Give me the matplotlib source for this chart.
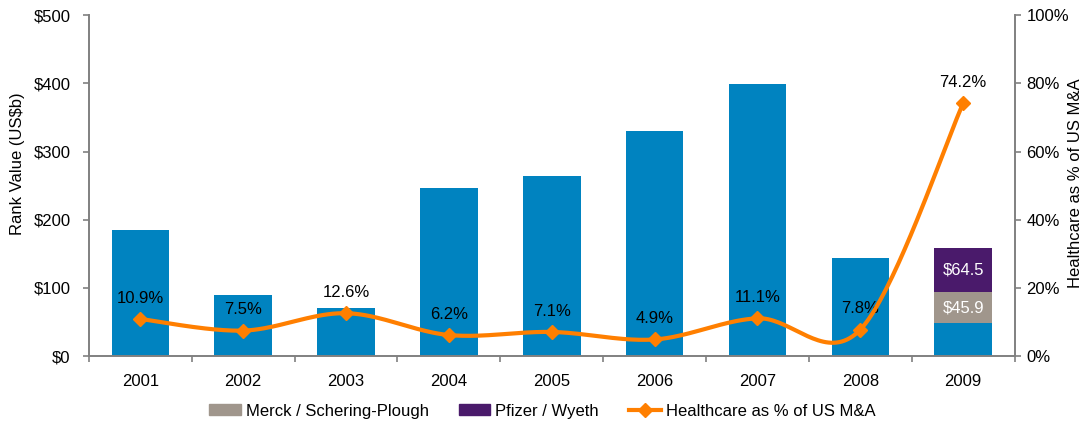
import numpy as np
import matplotlib
matplotlib.use("Agg")
import matplotlib.pyplot as plt
from matplotlib.patches import Patch
from matplotlib.lines import Line2D

plt.rcParams["font.family"] = ["Liberation Sans", "DejaVu Sans"]
plt.rcParams["font.size"] = 12

years = ["2001", "2002", "2003", "2004", "2005", "2006", "2007", "2008", "2009"]
rank_value = [185, 89, 70, 246, 264, 330, 399, 144, 48]   # US$b, other deals
merck_sp = 45.9     # 2009 only
pfizer_wyeth = 64.5  # 2009 only
hc_share = [10.9, 7.5, 12.6, 6.2, 7.1, 4.9, 11.1, 7.8, 74.2]

BLUE = "#0083c0"
GREY = "#a0968c"
PURPLE = "#4a1a6b"
ORANGE = "#ff7f00"
SPINE = "#808080"


def smooth_line(y, n=40):
    # excel-style smoothed line: cubic bezier with catmull-rom control points
    y = np.asarray(y, dtype=float)
    x = np.arange(len(y), dtype=float)
    pts = np.column_stack([x, y])
    out = []
    for i in range(len(pts) - 1):
        p0 = pts[max(i - 1, 0)]
        p1 = pts[i]
        p2 = pts[i + 1]
        p3 = pts[min(i + 2, len(pts) - 1)]
        c1 = p1 + (p2 - p0) / 6
        c2 = p2 - (p3 - p1) / 6
        t = np.linspace(0, 1, n)[:, None]
        seg = ((1 - t) ** 3) * p1 + 3 * ((1 - t) ** 2) * t * c1 \
            + 3 * (1 - t) * t ** 2 * c2 + t ** 3 * p2
        out.append(seg if i == 0 else seg[1:])
    out = np.vstack(out)
    return out[:, 0], out[:, 1]


fig = plt.figure(figsize=(10.84, 4.22), dpi=100)
ax = fig.add_axes([0.082, 0.156, 0.854, 0.808])

x = np.arange(len(years))
w = 0.56
ax.bar(x, rank_value, width=w, color=BLUE, zorder=2)
ax.bar(x[-1], merck_sp, width=w, bottom=rank_value[-1], color=GREY, zorder=2)
ax.bar(x[-1], pfizer_wyeth, width=w, bottom=rank_value[-1] + merck_sp,
       color=PURPLE, zorder=2)
ax.text(x[-1], rank_value[-1] + merck_sp / 2, f"${merck_sp}", color="white",
        ha="center", va="center", zorder=3)
ax.text(x[-1], rank_value[-1] + merck_sp + pfizer_wyeth / 2, f"${pfizer_wyeth}",
        color="white", ha="center", va="center", zorder=3)

ax.set_xlim(-0.5, len(years) - 0.5)
ax.set_ylim(0, 500)
ax.set_yticks(range(0, 501, 100))
ax.set_yticklabels([f"${v}" for v in range(0, 501, 100)])

ax.set_xticks(x)
ax.set_xticklabels(years)
ax.tick_params(axis="x", which="major", length=0, pad=13)
ax.set_xticks(np.arange(-0.5, len(years), 1), minor=True)
ax.tick_params(axis="x", which="minor", length=4.3, color=SPINE, width=1.2)
ax.tick_params(axis="y", length=4.3, pad=9, color=SPINE, width=1.2)

for s in ["top", "right"]:
    ax.spines[s].set_visible(False)
for s in ["left", "bottom"]:
    ax.spines[s].set_color(SPINE)
    ax.spines[s].set_linewidth(1.4)

ax2 = ax.twinx()
sx, sy = smooth_line(hc_share)
ax2.plot(sx, sy, color=ORANGE, lw=3, zorder=4, solid_capstyle="round")
ax2.plot(x, hc_share, ls="none", marker="D", ms=7, color=ORANGE, zorder=5)
for xi, v in zip(x, hc_share):
    ax2.annotate(f"{v}%", (xi, v), xytext=(0, 15), textcoords="offset points",
                 ha="center", va="center")
ax2.set_ylim(0, 100)
ax2.set_yticks(range(0, 101, 20))
ax2.set_yticklabels([f"{v}%" for v in range(0, 101, 20)])
ax2.tick_params(axis="y", length=4.3, pad=4.3, color=SPINE, width=1.2)
for s in ["top", "left", "bottom"]:
    ax2.spines[s].set_visible(False)
ax2.spines["right"].set_color(SPINE)
ax2.spines["right"].set_linewidth(1.4)

# axis titles placed on the figure so the right one stays inside the canvas
fig.text(18 / 1084, 1 - 164 / 422, "Rank Value (US$b)", rotation=90,
         ha="center", va="center")
fig.text(1076 / 1084, 1 - 183 / 422, "Healthcare as % of US M&A", rotation=90,
         ha="center", va="center")

handles = [
    Patch(color=GREY, label="Merck / Schering-Plough"),
    Patch(color=PURPLE, label="Pfizer / Wyeth"),
    Line2D([], [], color=ORANGE, lw=3, marker="D", ms=7,
           label="Healthcare as % of US M&A"),
]
fig.legend(handles=handles, loc="center", bbox_to_anchor=(0.5, 0.026),
           ncol=3, frameon=False, handlelength=1.9, handleheight=0.6,
           handletextpad=0.3, columnspacing=1.8, borderaxespad=0)

fig.savefig("out.png", dpi=100)
